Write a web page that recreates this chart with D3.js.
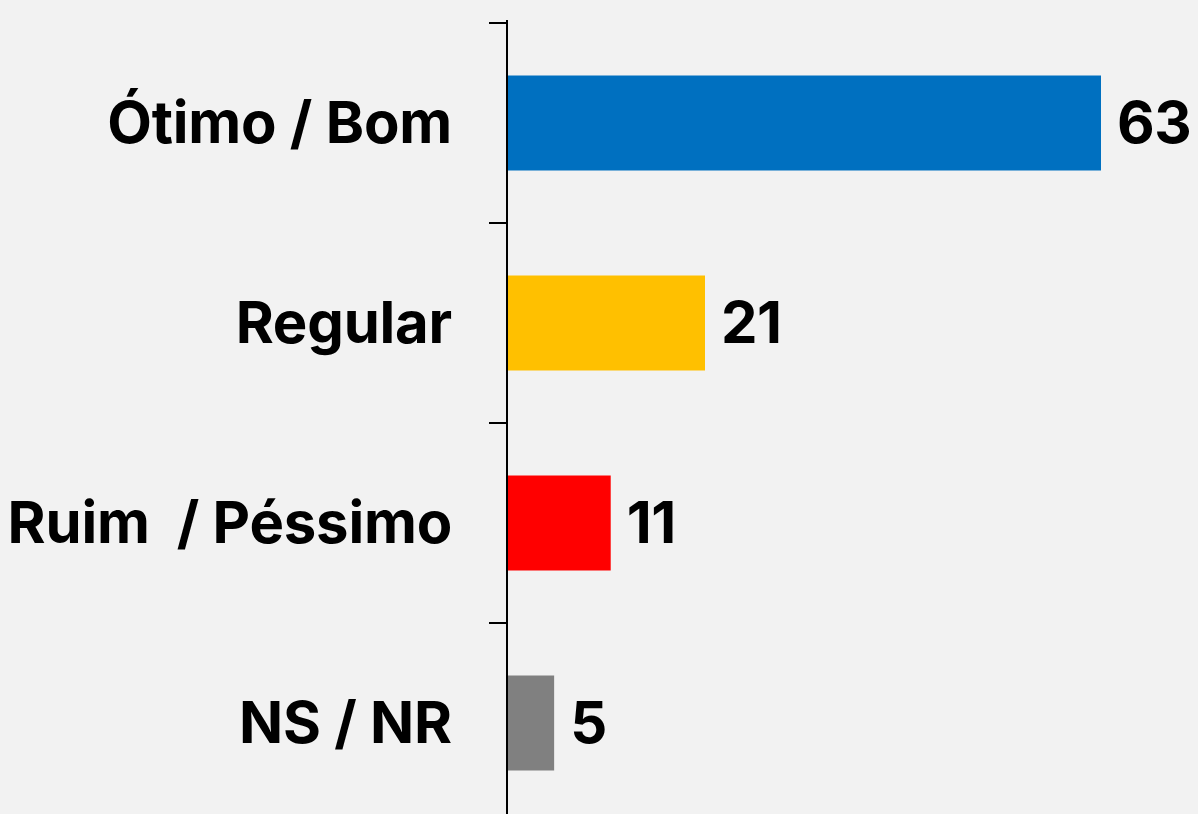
<!DOCTYPE html>
<html>
<head>
<meta charset="utf-8">
<script src="https://cdn.jsdelivr.net/npm/d3@7"></script>
<style>
  html, body { margin: 0; padding: 0; background: #f2f2f2; }
  svg { display: block; }
  text { font-family: Inter, "Liberation Sans", Arial, sans-serif; font-weight: 700; }
</style>
</head>
<body>
<div id="chart"></div>
<script>
// data
var categories = ["Ótimo / Bom", "Regular", "Ruim  / Péssimo", "NS / NR"];
var values = [63, 21, 11, 5];
var colors = ["#0070c0", "#ffc000", "#ff0000", "#808080"];

var width = 1198, height = 814;
var axisX = 507;

var svg = d3.select("#chart")
    .append("svg")
    .attr("width", width)
    .attr("height", height);

svg.append("rect")
    .attr("width", width)
    .attr("height", height)
    .attr("fill", "#f2f2f2");

// scales
var x = d3.scaleLinear()
    .domain([0, 63])
    .range([axisX, 1101]);

var y = d3.scaleBand()
    .domain(categories)
    .range([23, 823])
    .paddingInner(0.525)
    .paddingOuter(0.2625);

var gap = (y.step() - y.bandwidth()) / 2;

// bars
svg.selectAll("rect.bar")
    .data(categories)
    .enter()
    .append("rect")
    .attr("class", "bar")
    .attr("x", x(0))
    .attr("y", function (d) { return y(d); })
    .attr("width", function (d, i) { return x(values[i]) - x(0); })
    .attr("height", y.bandwidth())
    .attr("fill", function (d, i) { return colors[i]; });

// axis line + ticks at band boundaries
svg.append("line")
    .attr("x1", axisX).attr("x2", axisX)
    .attr("y1", 20).attr("y2", height)
    .attr("stroke", "#000")
    .attr("stroke-width", 2);

svg.selectAll("line.tick")
    .data(categories)
    .enter()
    .append("line")
    .attr("class", "tick")
    .attr("x1", axisX - 18).attr("x2", axisX)
    .attr("y1", function (d) { return y(d) - gap; })
    .attr("y2", function (d) { return y(d) - gap; })
    .attr("stroke", "#000")
    .attr("stroke-width", 2);

// category labels
svg.selectAll("text.label")
    .data(categories)
    .enter()
    .append("text")
    .attr("class", "label")
    .attr("x", axisX - 55)
    .attr("y", function (d) { return y(d) + y.bandwidth() / 2; })
    .attr("dy", "0.34em")
    .attr("text-anchor", "end")
    .attr("font-size", 58)
    .attr("letter-spacing", -0.2)
    .style("white-space", "pre")
    .text(function (d) { return d; });

// value labels
svg.selectAll("text.value")
    .data(categories)
    .enter()
    .append("text")
    .attr("class", "value")
    .attr("x", function (d, i) { return x(values[i]) + 16; })
    .attr("y", function (d) { return y(d) + y.bandwidth() / 2; })
    .attr("dy", "0.34em")
    .attr("font-size", 58)
    .attr("letter-spacing", -0.5)
    .text(function (d, i) { return values[i]; });
</script>
</body>
</html>
